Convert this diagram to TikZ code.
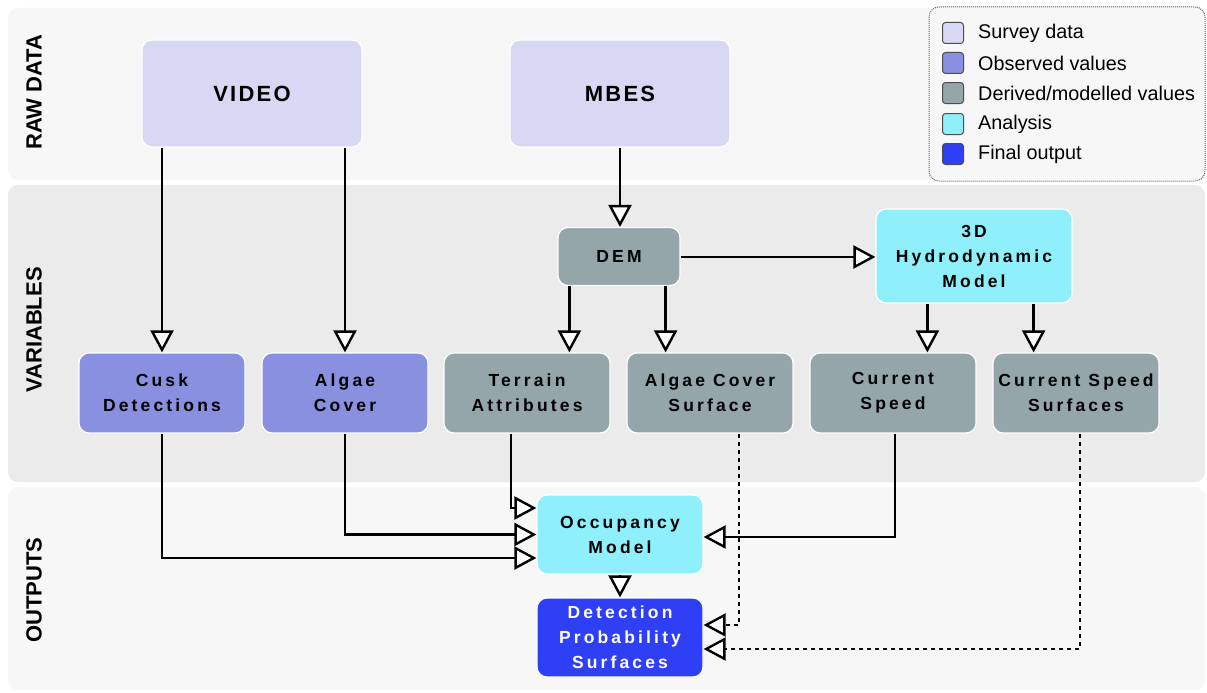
\documentclass[tikz,border=0pt]{standalone}
\usepackage{fontspec}
\setmainfont{Liberation Sans}
\newfontfamily\boxfont[LetterSpace=18]{Liberation Sans}
\newfontfamily\bigfont[LetterSpace=10]{Liberation Sans}
\usetikzlibrary{arrows.meta}
\definecolor{bandA}{HTML}{F7F7F7}
\definecolor{bandB}{HTML}{EBEBEB}
\definecolor{survey}{HTML}{D8D8F4}
\definecolor{observed}{HTML}{8890DF}
\definecolor{derived}{HTML}{94A6AA}
\definecolor{analysis}{HTML}{8FF0FC}
\definecolor{final}{HTML}{2E3FF5}
\tikzset{
  band/.style={rounded corners=10pt, draw=none},
  bandlabel/.style={rotate=90, font=\fontsize{22}{26}\selectfont\bfseries},
  box/.style={rounded corners=10pt, draw=white, line width=1.2pt, align=center,
    font=\boxfont\bfseries\fontsize{17.5}{25}\selectfont, inner sep=0pt},
  bigbox/.style={box, font=\bigfont\bfseries\fontsize{22}{26}\selectfont},
  arr/.style={line width=2.4pt, -{Triangle[open, fill=white, length=22pt, width=23pt]}},
  darr/.style={arr, dash pattern=on 4pt off 4pt},
  legsq/.style={rounded corners=3pt, draw=black!70, line width=1pt, minimum width=21pt, minimum height=21pt, inner sep=0pt},
  legtxt/.style={anchor=west, font=\fontsize{19.8}{22}\selectfont, inner sep=0pt}
}
\begin{document}
\begin{tikzpicture}[x=1pt, y=-1pt]
\useasboundingbox (0,0) rectangle (1207,693);
\fill[white] (0,0) rectangle (1207,693);
% bands
\fill[band, bandA] (8,8) rectangle (1205,180);
\fill[band, bandB] (8,185) rectangle (1205,482);
\fill[band, bandA] (8,487) rectangle (1205,690);
\node[bandlabel] (lraw) at (34,92) {RAW DATA};
\node[bandlabel] (lvar) at (34,330) {VARIABLES};
\node[bandlabel] (lout) at (34,590) {OUTPUTS};
% legend
\draw[rounded corners=10pt, draw=black!60, line width=1pt, dash pattern=on 1pt off 1pt, fill=bandA] (929,7) rectangle (1205,181);
\node[legsq, fill=survey] (s1) at (953,33) {};
\node[legsq, fill=observed] (s2) at (953,63) {};
\node[legsq, fill=derived] (s3) at (953,93) {};
\node[legsq, fill=analysis] (s4) at (953,124) {};
\node[legsq, fill=final] (s5) at (953,154) {};
\node[legtxt] (t1) at (978,33) {Survey data};
\node[legtxt] (t2) at (978,63) {Observed values};
\node[legtxt] (t3) at (978,93) {Derived/modelled values};
\node[legtxt] (t4) at (978,124) {Analysis};
\node[legtxt] (t5) at (978,154) {Final output};
% raw data
\node[bigbox, fill=survey, minimum width=220pt, minimum height=107pt] (video) at (252,93.5) {VIDEO};
\node[bigbox, fill=survey, minimum width=220pt, minimum height=107pt] (mbes) at (620,93.5) {MBES};
% variables
\node[box, fill=derived, minimum width=122pt, minimum height=58pt] (dem) at (619,256.5) {DEM};
\node[box, fill=analysis, minimum width=196pt, minimum height=94pt] (hydro) at (974,256) {3D\\Hydrodynamic\\Model};
\node[box, fill=observed, minimum width=166pt, minimum height=80pt] (cusk) at (162,393) {Cusk\\Detections};
\node[box, fill=observed, minimum width=166pt, minimum height=80pt] (algae) at (345,393) {Algae\\Cover};
\node[box, fill=derived, minimum width=166pt, minimum height=80pt] (terrain) at (527,393) {Terrain\\Attributes};
\node[box, fill=derived, minimum width=166pt, minimum height=80pt] (acs) at (710,393) {Algae Cover\\Surface};
\node[box, fill=derived, minimum width=166pt, minimum height=80pt] (cs) at (893,393) {Current\\Speed};
\node[box, fill=derived, minimum width=166pt, minimum height=80pt] (css) at (1076,393) {Current Speed\\Surfaces};
% outputs
\node[box, fill=analysis, minimum width=166pt, minimum height=79pt] (occ) at (620,534.5) {Occupancy\\Model};
\node[box, fill=final, text=white, minimum width=166pt, minimum height=79pt] (det) at (620,637.5) {Detection\\Probability\\Surfaces};
% connectors
\draw[arr] (cusk.north |- video.south) -- (cusk.north);
\draw[arr] (algae.north |- video.south) -- (algae.north);
\draw[arr] (mbes.south) -- (dem.north -| mbes.south);
\draw[arr] (dem.east |- 0,257) -- (hydro.west |- 0,257);
\coordinate (d1) at ([xshift=12pt]dem.south west);
\coordinate (d2) at ([xshift=-15pt]dem.south east);
\draw[arr] (d1) -- (d1 |- terrain.north);
\draw[arr] (d2) -- (d2 |- acs.north);
\coordinate (h1) at ([xshift=52pt]hydro.south west);
\coordinate (h2) at ([xshift=-39pt]hydro.south east);
\draw[arr] (h1) -- (h1 |- cs.north);
\draw[arr] (h2) -- (h2 |- css.north);
\coordinate (o1) at ([yshift=26.5pt]occ.west);
\coordinate (o3) at ([yshift=-23.5pt]occ.west);
\coordinate (te) at ([xshift=-16pt]terrain.south);
\draw[arr] (te) |- (o1);
\draw[arr] (algae.south) |- (occ.west);
\draw[arr] (cusk.south) |- (o3);
\coordinate (o4) at ([yshift=-2.5pt]occ.east);
\coordinate (cse) at ([xshift=2pt]cs.south);
\draw[arr] (cse) |- (o4);
\draw[arr] (occ.south) -- (det.north);
\coordinate (a1) at ([xshift=29pt]acs.south);
\coordinate (a2) at ([yshift=12.5pt]det.east);
\draw[darr] (a1) |- (a2);
\coordinate (c1) at ([xshift=4pt]css.south);
\coordinate (c2) at ([yshift=-11.5pt]det.east);
\draw[darr] (c1) |- (c2);
\end{tikzpicture}
\end{document}
